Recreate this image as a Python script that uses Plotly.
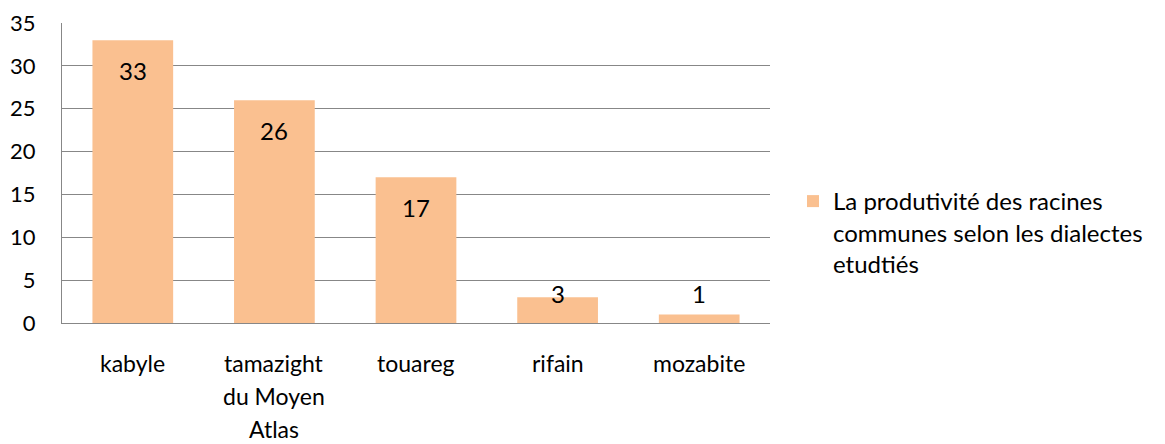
import plotly.graph_objects as go

categories = ["kabyle", "tamazight du Moyen Atlas", "touareg", "rifain", "mozabite"]
tick_labels = ["kabyle", "tamazight<br>du Moyen<br>Atlas", "touareg", "rifain", "mozabite"]
values = [33, 26, 17, 3, 1]
series_name = "La produtivité des racines<br>communes selon les dialectes<br>etudtiés"

FONT = "Lato"
BAR = "#FAC090"
GRID = "#878787"

fig = go.Figure()
fig.add_trace(go.Bar(
    x=categories, y=values, name=series_name,
    marker=dict(color=BAR, line=dict(width=0)),
    width=0.57, showlegend=True,
))

annotations = []
for c, v in zip(categories, values):
    if v >= 7:
        annotations.append(dict(x=c, y=v, xref="x", yref="y", text=str(v), showarrow=False,
                                yshift=-30, yanchor="middle",
                                font=dict(family=FONT, size=24, color="#000")))
    else:
        annotations.append(dict(x=c, y=0, xref="x", yref="y", text=str(v), showarrow=False,
                                yshift=30, yanchor="middle",
                                font=dict(family=FONT, size=24, color="#000")))
for c, lab in zip(categories, tick_labels):
    for i, line in enumerate(lab.split("<br>")):
        annotations.append(dict(x=c, y=0, xref="x", yref="paper", text=line, showarrow=False,
                                yshift=-40 - 33 * i, yanchor="middle",
                                font=dict(family=FONT, size=23, color="#000")))

fig.update_layout(
    width=1157, height=436,
    margin=dict(l=54, r=395, t=15, b=121),
    paper_bgcolor="white", plot_bgcolor="white",
    font=dict(family=FONT, size=23, color="#000"),
    bargap=0.43,
    showlegend=True,
    legend=dict(x=1.0325, y=0.48, xanchor="left", yanchor="top",
                font=dict(family=FONT, size=24, color="#000"),
                valign="top", itemwidth=30, tracegroupgap=0),
    annotations=annotations,
    xaxis=dict(showticklabels=False, showline=True, linecolor=GRID, linewidth=1.3,
               ticks="", showgrid=False, automargin=False),
    yaxis=dict(range=[0, 35], tickvals=[0, 5, 10, 15, 20, 25, 30, 35], showgrid=True,
               gridcolor=GRID, gridwidth=1.3, automargin=False,
               showline=True, linecolor=GRID, linewidth=1.3, ticks="",
               zeroline=False, ticklabelstandoff=21,
               tickfont=dict(family=FONT, size=22, color="#000")),
)
fig.write_html("out.html")
